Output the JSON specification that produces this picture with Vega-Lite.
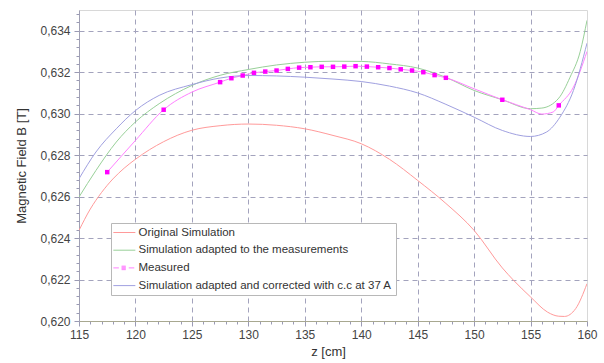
{
  "$schema": "https://vega.github.io/schema/vega-lite/v6.json",
  "width": 508,
  "height": 311,
  "autosize": {"type": "none"},
  "padding": {"left": 79, "top": 10, "right": 17, "bottom": 42},
  "background": "#ffffff",
  "config": {
    "font": "Liberation Sans",
    "view": {"stroke": "#d8d8d8", "strokeWidth": 1},
    "legend": {
      "orient": "none", "legendX": 32, "legendY": 213, "title": null,
      "fillColor": "#ffffff", "strokeColor": "#b8b8b8", "padding": 3.5,
      "symbolSize": 121, "symbolStrokeWidth": 1, "symbolOpacity": 1,
      "labelFontSize": 11.5, "labelColor": "#333333", "labelOffset": 12, "rowPadding": 5.7,
      "labelLimit": 400
    }
  },
  "datasets": {
    "curves": [
      {"series": "Original Simulation", "z": 115, "B": 0.62437},
      {"series": "Original Simulation", "z": 116, "B": 0.6254},
      {"series": "Original Simulation", "z": 117, "B": 0.6262},
      {"series": "Original Simulation", "z": 118, "B": 0.62685},
      {"series": "Original Simulation", "z": 119, "B": 0.62737},
      {"series": "Original Simulation", "z": 120, "B": 0.6278},
      {"series": "Original Simulation", "z": 122.5, "B": 0.62865},
      {"series": "Original Simulation", "z": 125, "B": 0.6292},
      {"series": "Original Simulation", "z": 127.5, "B": 0.62942},
      {"series": "Original Simulation", "z": 130, "B": 0.6295},
      {"series": "Original Simulation", "z": 132.5, "B": 0.62944},
      {"series": "Original Simulation", "z": 135, "B": 0.62927},
      {"series": "Original Simulation", "z": 137.5, "B": 0.62895},
      {"series": "Original Simulation", "z": 140, "B": 0.62855},
      {"series": "Original Simulation", "z": 142.5, "B": 0.6278},
      {"series": "Original Simulation", "z": 145, "B": 0.62678},
      {"series": "Original Simulation", "z": 147.5, "B": 0.62567},
      {"series": "Original Simulation", "z": 150, "B": 0.62437},
      {"series": "Original Simulation", "z": 152.5, "B": 0.62256},
      {"series": "Original Simulation", "z": 153.5, "B": 0.62196},
      {"series": "Original Simulation", "z": 155, "B": 0.62116},
      {"series": "Original Simulation", "z": 156.5, "B": 0.62043},
      {"series": "Original Simulation", "z": 157.5, "B": 0.62023},
      {"series": "Original Simulation", "z": 158, "B": 0.62022},
      {"series": "Original Simulation", "z": 159, "B": 0.6206},
      {"series": "Original Simulation", "z": 160, "B": 0.6218},

      {"series": "Simulation adapted to the measurements", "z": 115, "B": 0.62598},
      {"series": "Simulation adapted to the measurements", "z": 116.5, "B": 0.62726},
      {"series": "Simulation adapted to the measurements", "z": 118.3, "B": 0.62863},
      {"series": "Simulation adapted to the measurements", "z": 120, "B": 0.6296},
      {"series": "Simulation adapted to the measurements", "z": 122.1, "B": 0.63048},
      {"series": "Simulation adapted to the measurements", "z": 125, "B": 0.63136},
      {"series": "Simulation adapted to the measurements", "z": 127.5, "B": 0.63185},
      {"series": "Simulation adapted to the measurements", "z": 130, "B": 0.63213},
      {"series": "Simulation adapted to the measurements", "z": 132.5, "B": 0.63235},
      {"series": "Simulation adapted to the measurements", "z": 135, "B": 0.63248},
      {"series": "Simulation adapted to the measurements", "z": 137.5, "B": 0.63253},
      {"series": "Simulation adapted to the measurements", "z": 140, "B": 0.63252},
      {"series": "Simulation adapted to the measurements", "z": 142.5, "B": 0.6324},
      {"series": "Simulation adapted to the measurements", "z": 145, "B": 0.6322},
      {"series": "Simulation adapted to the measurements", "z": 147.5, "B": 0.63175},
      {"series": "Simulation adapted to the measurements", "z": 150, "B": 0.63112},
      {"series": "Simulation adapted to the measurements", "z": 152.5, "B": 0.63067},
      {"series": "Simulation adapted to the measurements", "z": 155, "B": 0.63024},
      {"series": "Simulation adapted to the measurements", "z": 156, "B": 0.63027},
      {"series": "Simulation adapted to the measurements", "z": 157.5, "B": 0.63075},
      {"series": "Simulation adapted to the measurements", "z": 158.5, "B": 0.63176},
      {"series": "Simulation adapted to the measurements", "z": 159.4, "B": 0.633},
      {"series": "Simulation adapted to the measurements", "z": 160, "B": 0.6345},

      {"series": "Measured", "z": 117.5, "B": 0.62718},
      {"series": "Measured", "z": 120, "B": 0.62871},
      {"series": "Measured", "z": 122.5, "B": 0.63019},
      {"series": "Measured", "z": 125, "B": 0.63104},
      {"series": "Measured", "z": 127.5, "B": 0.63152},
      {"series": "Measured", "z": 128.5, "B": 0.63171},
      {"series": "Measured", "z": 129.5, "B": 0.63184},
      {"series": "Measured", "z": 130.5, "B": 0.63197},
      {"series": "Measured", "z": 131.5, "B": 0.63203},
      {"series": "Measured", "z": 132.5, "B": 0.63208},
      {"series": "Measured", "z": 133.5, "B": 0.63216},
      {"series": "Measured", "z": 134.5, "B": 0.63222},
      {"series": "Measured", "z": 135.5, "B": 0.63224},
      {"series": "Measured", "z": 136.5, "B": 0.63226},
      {"series": "Measured", "z": 137.5, "B": 0.63226},
      {"series": "Measured", "z": 138.5, "B": 0.63227},
      {"series": "Measured", "z": 139.5, "B": 0.63229},
      {"series": "Measured", "z": 140.5, "B": 0.63227},
      {"series": "Measured", "z": 141.5, "B": 0.63224},
      {"series": "Measured", "z": 142.5, "B": 0.6322},
      {"series": "Measured", "z": 143.5, "B": 0.63214},
      {"series": "Measured", "z": 144.5, "B": 0.63208},
      {"series": "Measured", "z": 145.5, "B": 0.632},
      {"series": "Measured", "z": 146.5, "B": 0.63186},
      {"series": "Measured", "z": 147.5, "B": 0.63173},
      {"series": "Measured", "z": 150, "B": 0.6312},
      {"series": "Measured", "z": 152.5, "B": 0.63067},
      {"series": "Measured", "z": 155, "B": 0.63019},
      {"series": "Measured", "z": 156, "B": 0.62998},
      {"series": "Measured", "z": 157, "B": 0.63008},
      {"series": "Measured", "z": 157.5, "B": 0.6304},
      {"series": "Measured", "z": 158.8, "B": 0.63128},
      {"series": "Measured", "z": 160, "B": 0.633},

      {"series": "Simulation adapted and corrected with c.c at 37 A", "z": 115, "B": 0.62686},
      {"series": "Simulation adapted and corrected with c.c at 37 A", "z": 116.5, "B": 0.62815},
      {"series": "Simulation adapted and corrected with c.c at 37 A", "z": 118.3, "B": 0.62927},
      {"series": "Simulation adapted and corrected with c.c at 37 A", "z": 120, "B": 0.63015},
      {"series": "Simulation adapted and corrected with c.c at 37 A", "z": 122.1, "B": 0.63088},
      {"series": "Simulation adapted and corrected with c.c at 37 A", "z": 125, "B": 0.6314},
      {"series": "Simulation adapted and corrected with c.c at 37 A", "z": 127.5, "B": 0.63172},
      {"series": "Simulation adapted and corrected with c.c at 37 A", "z": 130, "B": 0.63184},
      {"series": "Simulation adapted and corrected with c.c at 37 A", "z": 132.5, "B": 0.63182},
      {"series": "Simulation adapted and corrected with c.c at 37 A", "z": 135, "B": 0.63176},
      {"series": "Simulation adapted and corrected with c.c at 37 A", "z": 137.5, "B": 0.63167},
      {"series": "Simulation adapted and corrected with c.c at 37 A", "z": 140, "B": 0.63155},
      {"series": "Simulation adapted and corrected with c.c at 37 A", "z": 142.5, "B": 0.63133},
      {"series": "Simulation adapted and corrected with c.c at 37 A", "z": 145, "B": 0.631},
      {"series": "Simulation adapted and corrected with c.c at 37 A", "z": 147.5, "B": 0.63045},
      {"series": "Simulation adapted and corrected with c.c at 37 A", "z": 150, "B": 0.62983},
      {"series": "Simulation adapted and corrected with c.c at 37 A", "z": 152.5, "B": 0.62919},
      {"series": "Simulation adapted and corrected with c.c at 37 A", "z": 155, "B": 0.6289},
      {"series": "Simulation adapted and corrected with c.c at 37 A", "z": 156.4, "B": 0.62911},
      {"series": "Simulation adapted and corrected with c.c at 37 A", "z": 157.6, "B": 0.62983},
      {"series": "Simulation adapted and corrected with c.c at 37 A", "z": 158.8, "B": 0.63112},
      {"series": "Simulation adapted and corrected with c.c at 37 A", "z": 160, "B": 0.6334}
    ],
    "points": [
      {"z": 117.5, "B": 0.62718},
      {"z": 122.5, "B": 0.63019},
      {"z": 127.5, "B": 0.63152},
      {"z": 128.5, "B": 0.63171},
      {"z": 129.5, "B": 0.63184},
      {"z": 130.5, "B": 0.63197},
      {"z": 131.5, "B": 0.63203},
      {"z": 132.5, "B": 0.63208},
      {"z": 133.5, "B": 0.63216},
      {"z": 134.5, "B": 0.63222},
      {"z": 135.5, "B": 0.63224},
      {"z": 136.5, "B": 0.63226},
      {"z": 137.5, "B": 0.63226},
      {"z": 138.5, "B": 0.63227},
      {"z": 139.5, "B": 0.63229},
      {"z": 140.5, "B": 0.63227},
      {"z": 141.5, "B": 0.63224},
      {"z": 142.5, "B": 0.6322},
      {"z": 143.5, "B": 0.63214},
      {"z": 144.5, "B": 0.63208},
      {"z": 145.5, "B": 0.632},
      {"z": 146.5, "B": 0.63186},
      {"z": 147.5, "B": 0.63173},
      {"z": 152.5, "B": 0.63067},
      {"z": 157.5, "B": 0.6304}
    ],
    "legendEntries": [
      {"series": "Original Simulation"},
      {"series": "Simulation adapted to the measurements"},
      {"series": "Measured"},
      {"series": "Simulation adapted and corrected with c.c at 37 A"}
    ]
  },
  "layer": [
    {
      "data": {"name": "curves"},
      "mark": {"type": "line", "strokeWidth": 1, "interpolate": "monotone", "clip": true},
      "encoding": {
        "x": {
          "field": "z", "type": "quantitative", "title": "z [cm]",
          "scale": {"domain": [115, 160], "nice": false},
          "axis": {
            "values": [115,116,117,118,119,120,121,122,123,124,125,126,127,128,129,130,131,132,133,134,135,136,137,138,139,140,141,142,143,144,145,146,147,148,149,150,151,152,153,154,155,156,157,158,159,160],
            "tickCount": 200,
            "labelExpr": "datum.value % 5 === 0 ? format(datum.value, 'd') : ''",
            "labelOverlap": false,
            "labelFontSize": 12,
            "labelColor": "#444444",
            "labelPadding": 3,
            "labelFlush": false,
            "tickSize": {"condition": {"test": "datum.value % 5 !== 0", "value": 3}, "value": 5},
            "tickColor": "#9a9ab4",
            "domainColor": "#a8a890",
            "grid": true,
            "gridColor": "#a3a3bd",
            "gridDash": [5, 4],
            "gridOpacity": {"condition": {"test": "datum.value % 5 !== 0 || datum.value === 115 || datum.value === 160", "value": 0}, "value": 1},
            "titleFontSize": 13,
            "titleFontWeight": "normal",
            "titleColor": "#333333",
            "titlePadding": 5,
            "titleX": 249
          }
        },
        "y": {
          "field": "B", "type": "quantitative", "title": "Magnetic Field B [T]",
          "scale": {"domain": [0.62, 0.635], "nice": false, "zero": false},
          "axis": {
            "values": [0.62,0.6204,0.6208,0.6212,0.6216,0.622,0.6224,0.6228,0.6232,0.6236,0.624,0.6244,0.6248,0.6252,0.6256,0.626,0.6264,0.6268,0.6272,0.6276,0.628,0.6284,0.6288,0.6292,0.6296,0.63,0.6304,0.6308,0.6312,0.6316,0.632,0.6324,0.6328,0.6332,0.6336,0.634,0.6344,0.6348],
            "tickCount": 200,
            "labelExpr": "abs(datum.value * 500 - round(datum.value * 500)) > 0.01 ? '' : replace(format(datum.value, '.3f'), '.', ',')",
            "labelOverlap": false,
            "labelFontSize": 12,
            "labelColor": "#444444",
            "labelPadding": 4,
            "labelFlush": false,
            "tickSize": {"condition": {"test": "abs(datum.value * 500 - round(datum.value * 500)) > 0.01", "value": 3}, "value": 5},
            "tickColor": "#9a9ab4",
            "domainColor": "#a0a0b4",
            "grid": true,
            "gridColor": "#a3a3bd",
            "gridDash": [5, 4],
            "gridOpacity": {"condition": {"test": "abs(datum.value * 500 - round(datum.value * 500)) > 0.01 || datum.value < 0.6201", "value": 0}, "value": 1},
            "titleFontSize": 13,
            "titleFontWeight": "normal",
            "titleColor": "#333333",
            "titlePadding": 11
          }
        },
        "color": {
          "field": "series", "type": "nominal",
          "scale": {
            "domain": ["Original Simulation", "Simulation adapted to the measurements", "Measured", "Simulation adapted and corrected with c.c at 37 A"],
            "range": ["#ff9a9a", "#98d098", "#ff80ff", "#a0a0e0"]
          },
          "legend": {
            "encoding": {"symbols": {"update": {
              "opacity": {"value": 1},
              "strokeWidth": {"value": 1}
            }}}
          }
        }
      }
    },
    {
      "data": {"name": "points"},
      "mark": {"type": "square", "size": 20, "color": "#ff00ff", "opacity": 1},
      "encoding": {
        "x": {"field": "z", "type": "quantitative"},
        "y": {"field": "B", "type": "quantitative"}
      }
    },
    {
      "data": {"name": "legendEntries"},
      "mark": {"type": "point", "filled": false, "opacity": 0},
      "encoding": {
        "color": {
          "field": "series", "type": "nominal",
          "legend": {
            "encoding": {"symbols": {"update": {
              "opacity": {"value": 1},
              "strokeWidth": {"value": 1}
            }}}
          }
        },
        "shape": {
          "field": "series", "type": "nominal",
          "scale": {
            "domain": ["Original Simulation", "Simulation adapted to the measurements", "Measured", "Simulation adapted and corrected with c.c at 37 A"],
            "range": ["M-1.3,0H2.7", "M-1.3,0H2.7", "M-1.3,0H-0.3M0.2,-0.32H0.96M0.2,-0.16H0.96M0.2,0H0.96M0.2,0.16H0.96M0.2,0.32H0.96M1.5,0H2.5", "M-1.3,0H2.7"]
          },
          "legend": {
            "encoding": {"symbols": {"update": {
              "opacity": {"value": 1},
              "strokeWidth": {"value": 1}
            }}}
          }
        }
      }
    }
  ]
}
